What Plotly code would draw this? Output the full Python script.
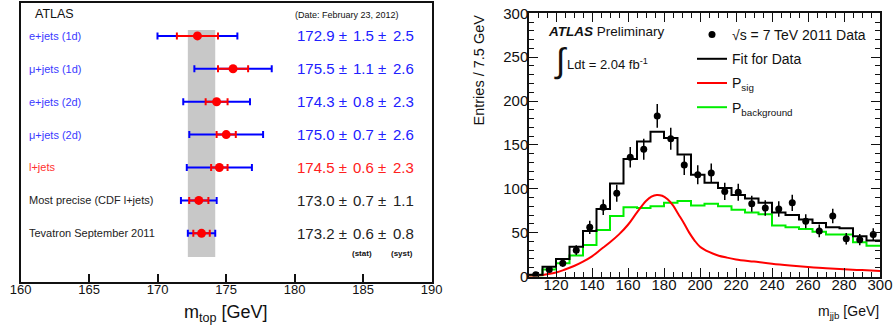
import math
import plotly.graph_objects as go

# ---------------- Left panel data ----------------
labels = ["e+jets (1d)", "μ+jets (1d)", "e+jets (2d)", "μ+jets (2d)", "l+jets",
          "Most precise (CDF l+jets)", "Tevatron September 2011"]
mtop = [172.9, 175.5, 174.3, 175.0, 174.5, 173.0, 173.2]
stat = [1.5, 1.1, 0.8, 0.7, 0.6, 0.7, 0.6]
syst = [2.5, 2.6, 2.3, 2.6, 2.3, 1.1, 0.8]
row_pos = [7, 6, 5, 4, 3, 2, 1]
label_colors = ["#3a3aff", "#3a3aff", "#3a3aff", "#3a3aff", "#ff3030", "#222222", "#222222"]
value_colors = ["#2020ff", "#2020ff", "#2020ff", "#2020ff", "#ff2020", "#222222", "#222222"]
left_ticks = [160, 165, 170, 175, 180, 185, 190]

total = [math.sqrt(a * a + b * b) for a, b in zip(stat, syst)]

# ---------------- Right panel data ----------------
bin_start = 105.0
bin_width = 7.5
data_counts = [2, 8, 15, 30, 56, 79, 95, 136, 145, 183, 157, 127, 116, 118,
               97, 96, 83, 78, 77, 84, 63, 52, 69, 43, 42, 48]
data_err = [1.4, 2.8, 3.9, 5.5, 7.5, 8.9, 9.7, 11.7, 12.0, 13.5, 12.5, 11.3, 10.8, 10.9,
            9.8, 9.8, 9.1, 8.8, 8.8, 9.2, 7.9, 7.2, 8.3, 6.6, 6.5, 6.9]
fit_counts = [2, 11, 20, 34, 52, 77, 106, 134, 154, 165, 158, 139, 116, 107,
              101, 93, 89, 84, 73, 70, 65, 61, 56, 55, 46, 41]
bkg_counts = [1, 8, 15, 24, 36, 53, 69, 79, 78, 80, 84, 86, 81, 83,
              80, 76, 73, 71, 58, 56, 54, 51, 48, 48, 39, 35]
sig_x = [105, 110, 115, 120, 125, 130, 135, 140, 145, 150, 155, 160, 165, 170, 173, 176,
         179, 182, 185, 188, 191, 194, 197, 200, 205, 210, 215, 220, 230, 240, 250, 260,
         270, 280, 290, 300]
sig_y = [0, 1, 2.5, 4.5, 8, 12, 17, 23, 31, 39, 48, 59, 73, 86, 91, 93,
         92, 88, 81, 71, 61, 50, 41, 34, 28, 24, 21.5, 19.5, 17, 14.5, 12.5, 10.8,
         9.3, 8.2, 7.3, 6.4]
right_xticks = [120, 140, 160, 180, 200, 220, 240, 260, 280, 300]
right_yticks = [0, 50, 100, 150, 200, 250, 300]

nb = len(data_counts)
centers = [bin_start + bin_width * (i + 0.5) for i in range(nb)]
edges = [bin_start + bin_width * i for i in range(nb + 1)]
fit_step = fit_counts + [fit_counts[-1]]
bkg_step = bkg_counts + [bkg_counts[-1]]

W, H = 893, 326
FONT = "Liberation Sans, Arial, Helvetica, sans-serif"


def px(x):
    return x / W


def py(y):
    return 1 - y / H


fig = go.Figure()

# ---- left: error bars ----
fig.add_trace(go.Scatter(
    x=mtop, y=row_pos, mode="markers",
    marker=dict(size=1, color="rgba(0,0,0,0)"),
    error_x=dict(type="data", array=total, color="#0000ff", thickness=2, width=3.5),
    xaxis="x", yaxis="y", showlegend=False, hoverinfo="skip"))
fig.add_trace(go.Scatter(
    x=mtop, y=row_pos, mode="markers",
    marker=dict(size=9, color="#ff0000"),
    error_x=dict(type="data", array=stat, color="#ff0000", thickness=2, width=3.5),
    xaxis="x", yaxis="y", showlegend=False))

# ---- right: histograms ----
fig.add_trace(go.Scatter(
    x=edges, y=bkg_step, mode="lines", line=dict(color="#00ee00", width=2, shape="hv"),
    name="P<sub>background</sub>", xaxis="x2", yaxis="y2", legendrank=4, legendgroup="d"))
fig.add_trace(go.Scatter(
    x=sig_x, y=sig_y, mode="lines", line=dict(color="#ff0000", width=2, shape="spline"),
    name="P<sub>sig</sub>", xaxis="x2", yaxis="y2", legendrank=3, legendgroup="c"))
fig.add_trace(go.Scatter(
    x=edges, y=fit_step, mode="lines", line=dict(color="#000000", width=2, shape="hv"),
    name="Fit for Data", xaxis="x2", yaxis="y2", legendrank=2, legendgroup="b"))
fig.add_trace(go.Scatter(
    x=centers, y=data_counts, mode="markers",
    marker=dict(size=7, color="#000000"),
    error_y=dict(type="data", array=data_err, color="#000000", thickness=1.5, width=0),
    name="√s = 7 TeV 2011 Data", xaxis="x2", yaxis="y2", legendrank=1, legendgroup="a"))

# ---- left annotations ----
ann = []
for i in range(len(labels)):
    ann.append(dict(x=160.45, y=row_pos[i], xref="x", yref="y", text=labels[i],
                    showarrow=False, xanchor="left", yanchor="middle",
                    font=dict(size=11, color=label_colors[i], family=FONT)))
    ann.append(dict(x=180.0, y=row_pos[i], xref="x", yref="y", text=f"{mtop[i]:.1f} ±",
                    showarrow=False, xanchor="left", yanchor="middle",
                    font=dict(size=15, color=value_colors[i], family=FONT)))
    ann.append(dict(x=184.1, y=row_pos[i], xref="x", yref="y", text=f"{stat[i]:.1f} ±",
                    showarrow=False, xanchor="left", yanchor="middle",
                    font=dict(size=15, color=value_colors[i], family=FONT)))
    ann.append(dict(x=187.0, y=row_pos[i], xref="x", yref="y", text=f"{syst[i]:.1f}",
                    showarrow=False, xanchor="left", yanchor="middle",
                    font=dict(size=15, color=value_colors[i], family=FONT)))

ann += [
    dict(x=px(33), y=py(14), xref="paper", yref="paper", text="ATLAS", showarrow=False,
         xanchor="left", yanchor="middle", font=dict(size=12.5, color="#111", family=FONT)),
    dict(x=px(293), y=py(15), xref="paper", yref="paper", text="(Date: February 23, 2012)",
         showarrow=False, xanchor="left", yanchor="middle",
         font=dict(size=9, color="#111", family=FONT)),
    dict(x=px(361.7), y=py(253), xref="paper", yref="paper", text="<b>(stat)</b>",
         showarrow=False, xanchor="center", yanchor="middle",
         font=dict(size=8, color="#111", family=FONT)),
    dict(x=px(401.7), y=py(253), xref="paper", yref="paper", text="<b>(syst)</b>",
         showarrow=False, xanchor="center", yanchor="middle",
         font=dict(size=8, color="#111", family=FONT)),
    dict(x=px(226), y=py(313), xref="paper", yref="paper", text="m<sub>top</sub> [GeV]",
         showarrow=False, xanchor="center", yanchor="middle",
         font=dict(size=18, color="#111", family=FONT)),
    # right panel texts
    dict(x=px(546), y=py(31), xref="paper", yref="paper",
         text="<b><i>ATLAS</i></b> Preliminary", showarrow=False,
         xanchor="left", yanchor="middle", font=dict(size=13.5, color="#111", family=FONT)),
    dict(x=px(560), y=py(60), xref="paper", yref="paper", text="∫", showarrow=False,
         xanchor="center", yanchor="middle", font=dict(size=34, color="#111", family=FONT)),
    dict(x=px(565), y=py(64), xref="paper", yref="paper", text="Ldt = 2.04 fb<sup>-1</sup>",
         showarrow=False, xanchor="left", yanchor="middle",
         font=dict(size=13, color="#111", family=FONT)),
    dict(x=px(478), y=py(13), xref="paper", yref="paper", text="Entries / 7.5 GeV",
         showarrow=False, textangle=-90, xanchor="center", yanchor="top",
         font=dict(size=14.5, color="#111", family=FONT)),
    dict(x=px(881), y=py(312), xref="paper", yref="paper", text="m<sub>jjb</sub> [GeV]",
         showarrow=False, xanchor="right", yanchor="middle",
         font=dict(size=14, color="#111", family=FONT)),
]

tev = len(mtop) - 1
shapes = [dict(type="rect", xref="x", yref="y",
               x0=mtop[tev] - total[tev], x1=mtop[tev] + total[tev], y0=0.28, y1=7.18,
               fillcolor="#c8c8c8", line=dict(width=0), layer="below")]

fig.update_layout(
    width=W, height=H, margin=dict(l=0, r=0, t=0, b=0, autoexpand=False),
    paper_bgcolor="white", plot_bgcolor="white",
    font=dict(family=FONT, color="#111"),
    annotations=ann, shapes=shapes,
    xaxis=dict(domain=[px(20.7), px(431.7)], range=[160, 190], tickvals=left_ticks,
               ticks="inside", ticklen=8, tickwidth=1.5, tickcolor="#111",
               showline=True, linecolor="#111", linewidth=2, mirror=True,
               showgrid=False, zeroline=False, tickfont=dict(size=13, color="#111"),
               ticklabelstandoff=-6, anchor="y", fixedrange=True),
    yaxis=dict(domain=[py(282), py(3)], range=[-0.48, 8.0], showticklabels=False,
               ticks="", showline=True, linecolor="#111", linewidth=2, mirror=True,
               showgrid=False, zeroline=False, anchor="x"),
    xaxis2=dict(domain=[px(529), px(880)], range=[105, 300], tickvals=right_xticks,
                ticks="inside", ticklen=9, tickwidth=1.2, tickcolor="#111",
                minor=dict(dtick=5, tick0=105, ticks="inside", ticklen=5, tickwidth=1, tickcolor="#111"),
                showline=True, linecolor="#111", linewidth=1.5, mirror="ticks",
                showgrid=False, zeroline=False, tickfont=dict(size=15, color="#111"),
                ticklabelstandoff=-6, anchor="y2"),
    yaxis2=dict(domain=[py(276.5), py(13.3)], range=[0, 300], tickvals=right_yticks,
                ticks="inside", ticklen=9, tickwidth=1.2, tickcolor="#111",
                minor=dict(dtick=10, ticks="inside", ticklen=5, tickwidth=1, tickcolor="#111"),
                showline=True, linecolor="#111", linewidth=1.5, mirror="ticks",
                showgrid=False, zeroline=False, tickfont=dict(size=15, color="#111"),
                ticklabelstandoff=-4, anchor="x2"),
    legend=dict(x=px(692), y=py(19), xanchor="left", yanchor="top",
                bgcolor="rgba(0,0,0,0)", borderwidth=0,
                font=dict(size=14, color="#111", family=FONT),
                traceorder="grouped", tracegroupgap=3, itemwidth=30),
)

fig.write_html("out.html", config={"displayModeBar": False},
               post_script="document.body.style.margin='0px';")
